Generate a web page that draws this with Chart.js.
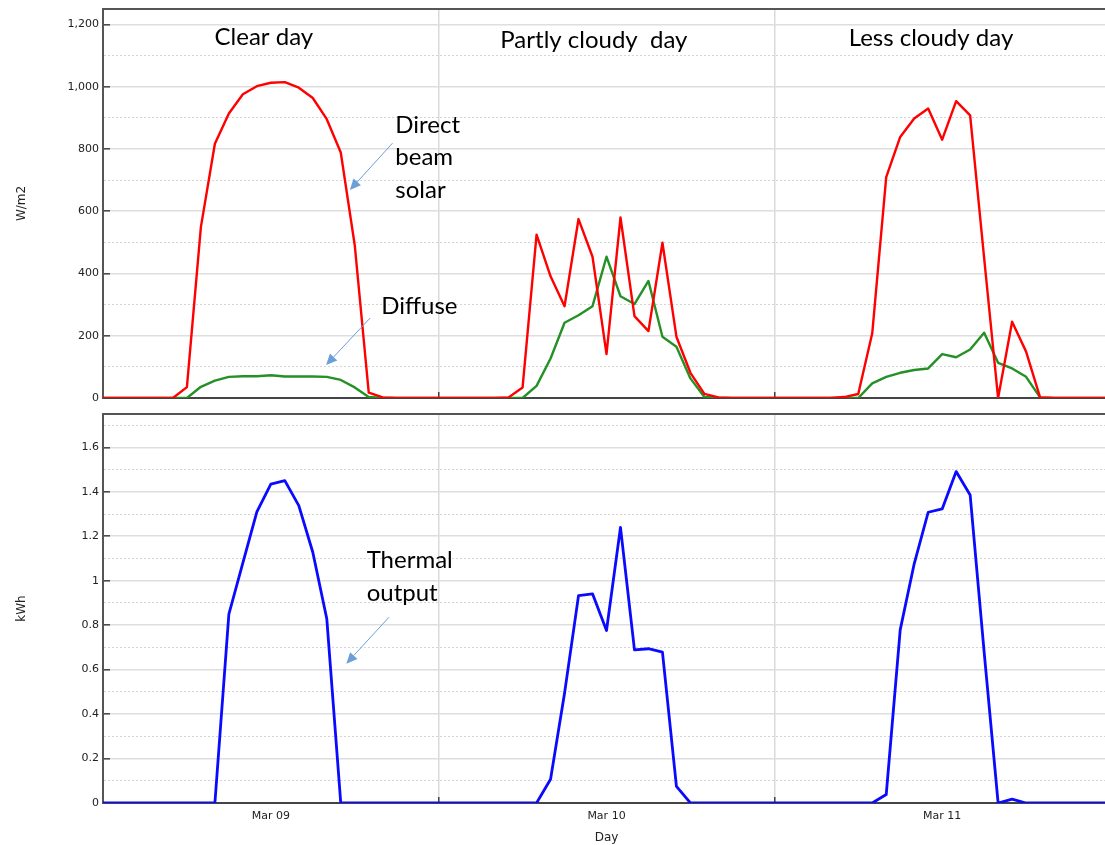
<!DOCTYPE html>
<html>
<head>
<meta charset="utf-8">
<style>
    html, body { margin: 0; padding: 0; background: #fff; overflow: hidden; }
    #wrap { position: relative; width: 1105px; height: 845px; overflow: hidden; }
    #solarChart { position: absolute; left: 0; top: 0; }
    #thermalChart { position: absolute; left: 0; top: 407px; }
</style>
</head>
<body>
<div id="wrap">
    <canvas id="solarChart" width="1110" height="407"></canvas>
    <canvas id="thermalChart" width="1110" height="438"></canvas>
</div>
<script src="https://cdn.jsdelivr.net/npm/chart.js@4.4.2/dist/chart.umd.min.js"></script>
<script>
// Hourly values, one array of 24 per day (00:00 .. 23:00)
const dayLabels = ['Mar 09', 'Mar 10', 'Mar 11'];

// Direct beam solar, W/m2
const directClear  = [0, 0, 0, 0, 0, 0, 35, 550, 817, 914, 976, 1002, 1013, 1015, 997, 964, 896, 789, 491, 17, 2, 0, 0, 0];
const directPartly = [0, 0, 0, 0, 0, 2, 34, 525, 391, 295, 575, 454, 141, 580, 263, 215, 499, 197, 81, 13, 2, 0, 0, 0];
const directLess   = [0, 0, 0, 0, 0, 3, 13, 208, 710, 839, 898, 930, 830, 954, 908, 450, 0, 245, 149, 2, 0, 0, 0, 0];

// Diffuse solar, W/m2
const diffuseClear  = [0, 0, 0, 0, 0, 0, 0, 36, 56, 68, 70, 70, 73, 69, 69, 69, 68, 58, 34, 3, 0, 0, 0, 0];
const diffusePartly = [0, 0, 0, 0, 0, 0, 0, 39, 127, 242, 266, 295, 454, 327, 302, 376, 197, 165, 63, 3, 0, 0, 0, 0];
const diffuseLess   = [0, 0, 0, 0, 0, 0, 0, 47, 68, 81, 90, 95, 141, 131, 156, 210, 113, 95, 68, 2, 0, 0, 0, 0];

// Thermal output, kWh
const thermalClear  = [0, 0, 0, 0, 0, 0, 0, 0, 0, 0.85, 1.08, 1.31, 1.435, 1.45, 1.338, 1.128, 0.829, 0, 0, 0, 0, 0, 0, 0];
const thermalPartly = [0, 0, 0, 0, 0, 0, 0, 0, 0.107, 0.494, 0.933, 0.941, 0.776, 1.24, 0.689, 0.694, 0.679, 0.075, 0, 0, 0, 0, 0, 0];
const thermalLess   = [0, 0, 0, 0, 0, 0, 0, 0, 0.038, 0.779, 1.076, 1.308, 1.323, 1.491, 1.386, 0.68, 0, 0.017, 0, 0, 0, 0, 0, 0];

// join the three days, plus midnight of Mar 12
const directBeam = [...directClear, ...directPartly, ...directLess, 0];
const diffuse = [...diffuseClear, ...diffusePartly, ...diffuseLess, 0];
const thermal = [...thermalClear, ...thermalPartly, ...thermalLess, 0];
const hours = directBeam.map((v, i) => i);

const tickFont = { family: 'DejaVu Sans', size: 11 };
const tickColor = '#222';
const noteFont = '24px Lato';

// draws text notes, arrows and the top frame line
const notesPlugin = {
    id: 'notes',
    afterDraw(chart, args, opts) {
        const { ctx, chartArea, scales } = chart;
        const px = (x) => scales.x.getPixelForValue(x);
        const py = (y) => scales.y.getPixelForValue(y);
        ctx.save();
        ctx.strokeStyle = '#555';
        ctx.lineWidth = 2;
        ctx.beginPath();
        ctx.moveTo(chartArea.left, chartArea.top);
        ctx.lineTo(chartArea.right, chartArea.top);
        ctx.stroke();

        ctx.fillStyle = '#000';
        ctx.font = noteFont;
        ctx.textBaseline = 'middle';
        (opts.texts || []).forEach(t => {
            ctx.textAlign = t.align || 'left';
            ctx.fillText(t.text, px(t.x), py(t.y));
        });

        ctx.strokeStyle = '#6a9fd8';
        ctx.fillStyle = '#6a9fd8';
        ctx.lineWidth = 1;
        (opts.arrows || []).forEach(a => {
            const x1 = px(a.from[0]), y1 = py(a.from[1]);
            const x2 = px(a.to[0]), y2 = py(a.to[1]);
            const ang = Math.atan2(y2 - y1, x2 - x1);
            const len = 11, half = 5;
            const bx = x2 - len * Math.cos(ang), by = y2 - len * Math.sin(ang);
            ctx.beginPath();
            ctx.moveTo(x1, y1);
            ctx.lineTo(bx, by);
            ctx.stroke();
            ctx.beginPath();
            ctx.moveTo(x2, y2);
            ctx.lineTo(bx + half * Math.sin(ang), by - half * Math.cos(ang));
            ctx.lineTo(bx - half * Math.sin(ang), by + half * Math.cos(ang));
            ctx.closePath();
            ctx.fill();
        });
        ctx.restore();
    }
};

const isDayEdge = (c) => c.tick && c.tick.value % 24 === 0 && c.tick.value > 0 && c.tick.value < 72;

// x axis shared by both charts: day boundaries as grid, day names at noon
function dayAxis(showLabels, height) {
    return {
        type: 'linear',
        min: 0,
        max: 72,
        afterBuildTicks: (scale) => {
            scale.ticks = [0, 12, 24, 36, 48, 60, 72].map(v => ({ value: v }));
        },
        afterFit: (scale) => {
            scale.height = height;
            scale.paddingLeft = 0;
            scale.paddingRight = 0;
        },
        grid: {
            drawTicks: true,
            tickLength: -6,
            tickWidth: 1.5,
            tickColor: (c) => isDayEdge(c) ? '#444' : 'transparent',
            lineWidth: 1.5,
            color: (c) => isDayEdge(c) ? '#dadada' : 'transparent'
        },
        border: { color: '#444', width: 2 },
        ticks: {
            display: showLabels,
            autoSkip: false,
            maxRotation: 0,
            padding: 13,
            font: { family: 'DejaVu Sans', size: 11 },
            color: tickColor,
            callback: (v) => v % 24 === 12 ? dayLabels[(v - 12) / 24] : ''
        },
        title: {
            display: showLabels,
            text: 'Day',
            font: { family: 'DejaVu Sans', size: 12 },
            color: tickColor,
            padding: { top: 2, bottom: 0 }
        }
    };
}

// y axis with solid major lines and dotted minor lines
function valueAxis(max, step, label, fmt) {
    const isMajor = (c) => c.tick && Math.round(c.tick.value / step * 2) % 2 === 0;
    return {
        min: 0,
        max: max,
        afterFit: (scale) => {
            scale.width = 103;
            scale.paddingTop = 0;
            scale.paddingBottom = 0;
        },
        grid: {
            drawTicks: true,
            tickLength: -7,
            tickWidth: 1.5,
            tickColor: (c) => isMajor(c) ? '#444' : 'transparent',
            lineWidth: (c) => isMajor(c) ? 1.6 : 1,
            color: (c) => isMajor(c) ? '#dedede' : '#d4d4d4'
        },
        border: {
            color: '#555',
            width: 2,
            dash: (c) => c.tick && !isMajor(c) ? [2, 2] : []
        },
        ticks: {
            stepSize: step / 2,
            includeBounds: false,
            padding: 11,
            font: tickFont,
            color: tickColor,
            callback: (v) => Math.round(v / step * 2) % 2 === 0 ? fmt(v) : ''
        },
        title: {
            display: true,
            text: label,
            font: { family: 'DejaVu Sans', size: 12 },
            color: tickColor,
            padding: { top: 15, bottom: 0 }
        }
    };
}

const lineStyle = { pointRadius: 0, tension: 0, fill: false, borderJoinStyle: 'round' };

const solarChart = new Chart(document.getElementById('solarChart'), {
    type: 'line',
    data: {
        labels: hours,
        datasets: [
            { label: 'Direct beam solar', data: directBeam, borderColor: '#ff0000', borderWidth: 2.4, ...lineStyle },
            { label: 'Diffuse', data: diffuse, borderColor: '#259025', borderWidth: 2.4, ...lineStyle }
        ]
    },
    options: {
        responsive: false,
        animation: false,
        events: [],
        layout: { padding: { top: 9, left: 0, right: 0, bottom: 0 } },
        plugins: {
            legend: { display: false },
            tooltip: { enabled: false },
            notes: {
                texts: [
                    { text: 'Clear day', x: 11.5, y: 1160, align: 'center' },
                    { text: 'Partly cloudy  day', x: 35.1, y: 1150, align: 'center' },
                    { text: 'Less cloudy day', x: 59.2, y: 1156, align: 'center' },
                    { text: 'Direct', x: 20.9, y: 876 },
                    { text: 'beam', x: 20.9, y: 774 },
                    { text: 'solar', x: 20.9, y: 668 },
                    { text: 'Diffuse', x: 19.9, y: 295 }
                ],
                arrows: [
                    { from: [20.7, 819], to: [17.65, 668] },
                    { from: [19.1, 257], to: [15.95, 106] }
                ]
            }
        },
        scales: {
            x: dayAxis(false, 9),
            y: valueAxis(1250, 200, 'W/m2', (v) => v.toLocaleString('en-US'))
        }
    },
    plugins: [notesPlugin]
});

const thermalChart = new Chart(document.getElementById('thermalChart'), {
    type: 'line',
    data: {
        labels: hours,
        datasets: [
            { label: 'Thermal output', data: thermal, borderColor: '#0a0aff', borderWidth: 2.8, ...lineStyle }
        ]
    },
    options: {
        responsive: false,
        animation: false,
        events: [],
        layout: { padding: { top: 7, left: 0, right: 0, bottom: 0 } },
        plugins: {
            legend: { display: false },
            tooltip: { enabled: false },
            notes: {
                texts: [
                    { text: 'Thermal', x: 18.85, y: 1.09 },
                    { text: 'output', x: 18.85, y: 0.942 }
                ],
                arrows: [
                    { from: [20.45, 0.836], to: [17.4, 0.627] }
                ]
            }
        },
        scales: {
            x: dayAxis(true, 42),
            y: valueAxis(1.75, 0.2, 'kWh', (v) => String(Math.round(v * 10) / 10))
        }
    },
    plugins: [notesPlugin]
});
</script>
</body>
</html>
